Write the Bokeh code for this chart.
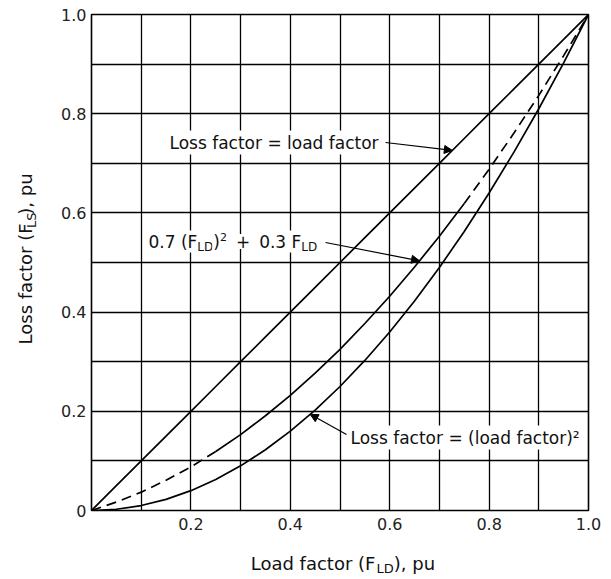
import numpy as np
from bokeh.plotting import figure
from bokeh.layouts import column, row
from bokeh.models import Range1d, FixedTicker, Label, Arrow, NormalHead
from bokeh.embed import file_html
from bokeh.resources import INLINE

# ---------------- data ----------------
load_factor = [0.0, 0.05, 0.1, 0.15, 0.2, 0.25, 0.3, 0.35, 0.4, 0.45, 0.5,
               0.55, 0.6, 0.65, 0.7, 0.75, 0.8, 0.85, 0.9, 0.95, 1.0]
loss_equal = [0.0, 0.05, 0.1, 0.15, 0.2, 0.25, 0.3, 0.35, 0.4, 0.45, 0.5,
              0.55, 0.6, 0.65, 0.7, 0.75, 0.8, 0.85, 0.9, 0.95, 1.0]
loss_square = [0.0, 0.0025, 0.01, 0.0225, 0.04, 0.0625, 0.09, 0.1225, 0.16, 0.2025, 0.25,
               0.3025, 0.36, 0.4225, 0.49, 0.5625, 0.64, 0.7225, 0.81, 0.9025, 1.0]
loss_mix = [0.0, 0.017, 0.037, 0.061, 0.088, 0.119, 0.153, 0.191, 0.232, 0.277, 0.325,
            0.377, 0.432, 0.491, 0.553, 0.619, 0.688, 0.761, 0.837, 0.917, 1.0]

x_ticks = [0.2, 0.4, 0.6, 0.8, 1.0]
x_tick_labels = ["0.2", "0.4", "0.6", "0.8", "1.0"]
y_ticks = [0.0, 0.2, 0.4, 0.6, 0.8, 1.0]
y_tick_labels = ["0", "0.2", "0.4", "0.6", "0.8", "1.0"]
grid_ticks = [0.0, 0.1, 0.2, 0.3, 0.4, 0.5, 0.6, 0.7, 0.8, 0.9, 1.0]

x_title = [("Load factor (F", "main"), ("LD", "sub"), ("), pu", "main")]
y_title = [("Loss factor (F", "main"), ("LS", "sub"), ("), pu", "main")]

# ---------------- layout (page pixels) ----------------
FONT = "DejaVu Sans"
YW = 46                      # width of the strip holding the y title
LEFT, RIGHT, TOP, BOTTOM = 91 - YW, 20, 14, 30
FW, FH = 497, 496
MW = LEFT + FW + RIGHT       # main figure width
MH = TOP + FH + BOTTOM       # main figure height
XH = 38                      # height of the strip holding the x title
FX0 = YW + LEFT              # page x of frame left
FY1 = TOP + FH               # page y of frame bottom


def dx(px):
    return (px - FX0) / FW


def dy(py):
    return (FY1 - py) / FH


def strip(width, height):
    f = figure(width=width, height=height, output_backend="svg", toolbar_location=None,
               x_range=Range1d(0, width), y_range=Range1d(0, height),
               min_border=0, x_axis_type=None, y_axis_type=None)
    f.outline_line_color = None
    f.background_fill_color = "white"
    f.border_fill_color = "white"
    f.xgrid.visible = False
    f.ygrid.visible = False
    return f


p = figure(width=MW, height=MH, output_backend="svg", toolbar_location=None,
           x_range=Range1d(0, 1), y_range=Range1d(0, 1),
           min_border_left=LEFT, min_border_right=RIGHT,
           min_border_top=TOP, min_border_bottom=BOTTOM)
p.background_fill_color = "white"
p.border_fill_color = "white"
p.outline_line_color = "black"
p.outline_line_width = 1.6

for ax, ticks, labels in ((p.xaxis[0], x_ticks, x_tick_labels),
                          (p.yaxis[0], y_ticks, y_tick_labels)):
    ax.ticker = FixedTicker(ticks=ticks)
    ax.major_label_overrides = {t: l for t, l in zip(ticks, labels)}
    ax.axis_line_color = None
    ax.major_tick_line_color = None
    ax.minor_tick_line_color = None
    ax.major_tick_out = 0
    ax.major_tick_in = 0
    ax.minor_tick_out = 0
    ax.minor_tick_in = 0
    ax.major_label_text_font = FONT
    ax.major_label_text_font_size = "16px"
    ax.major_label_text_color = "#222222"
p.xaxis.major_label_standoff = 7
p.yaxis.major_label_standoff = 5

for g in (p.xgrid[0], p.ygrid[0]):
    g.ticker = FixedTicker(ticks=grid_ticks)
    g.grid_line_color = "black"
    g.grid_line_width = 1.3
    g.grid_line_alpha = 1.0

# ---------------- curves ----------------
LW = 1.7
p.line(load_factor, loss_equal, line_color="black", line_width=LW)
p.line(load_factor, loss_square, line_color="black", line_width=LW)
p.line(load_factor[:6], loss_mix[:6], line_color="black", line_width=LW, line_dash="10 6")
p.line(load_factor[5:16], loss_mix[5:16], line_color="black", line_width=LW)
p.line(load_factor[15:], loss_mix[15:], line_color="black", line_width=LW, line_dash="10 6")

# ---------------- text helpers ----------------
WIDTHS = {" ": .318, "(": .390, ")": .390, "+": .838, ",": .318, ".": .318,
          "=": .838, "D": .770, "F": .575, "L": .557, "S": .635, "a": .613,
          "c": .550, "d": .635, "f": .352, "l": .278, "o": .612, "p": .635,
          "r": .411, "s": .521, "t": .392, "u": .634, "²": .401}
MID = 0.346   # distance baseline -> middle of the text box, in em


def text_width(s, size):
    return sum(WIDTHS.get(c, .636) for c in s) * size


def pieces(fig, parts, x0, mid0, base_size, to_x, to_y, vertical=False, bg=None):
    """Place text pieces one after another; every piece is anchored at its centre.
    x0: start of the run along the text, mid0: middle line of the main text."""
    pos = 0.0
    for text, size, shift, gap in parts:
        pos += gap
        w = text_width(text, size)
        across = mid0 + shift + MID * (base_size - size)
        kw = dict(text=text, text_font=FONT, text_font_size=f"{size}px",
                  text_color="#111111", text_baseline="middle", text_align="center")
        if bg:
            kw.update(background_fill_color=bg, padding=1)
        if vertical:
            lbl = Label(x=to_x(across), y=to_y(x0 - pos - w / 2), angle=np.pi / 2, **kw)
        else:
            lbl = Label(x=to_x(x0 + pos + w / 2), y=to_y(across), **kw)
        fig.add_layout(lbl)
        pos += w


def title_parts(spec):
    return [(t, 18, 0, 0) if k == "main" else (t, 13, 4, 1) for t, k in spec]


# y title strip (left of main figure)
yfig = strip(YW, MH)
pieces(yfig, title_parts(y_title), 354, 25, 18, lambda px: px, lambda py: MH - py,
       vertical=True)

# x title strip (below)
xfig = strip(YW + MW, XH)
pieces(xfig, title_parts(x_title), 250, 562.5, 18, lambda px: px, lambda py: MH + XH - py)

# annotations inside the chart
p.add_layout(Label(x=dx(167), y=dy(142), text="Loss factor = load factor",
                   text_font=FONT, text_font_size="17px", text_color="#111111",
                   text_baseline="middle", background_fill_color="white", padding=2))
p.add_layout(Label(x=dx(348), y=dy(437), text="Loss factor = (load factor)²",
                   text_font=FONT, text_font_size="17px", text_color="#111111",
                   text_baseline="middle", background_fill_color="white", padding=2))
pieces(p, [("0.7 (F", 17, 0, 0), ("LD", 12, 4, 0), (")", 17, 0, 0), ("2", 11, -7, 0),
           ("+", 17, 0, 9), ("0.3 F", 17, 0, 9), ("LD", 12, 4, 0)],
       148, 241, 17, dx, dy, bg="white")

# arrows pointing to the curves
head = dict(size=8, fill_color="black", line_color="black")
a1x = 0.726
p.add_layout(Arrow(end=NormalHead(**head), x_start=dx(385), y_start=dy(142),
                   x_end=a1x, y_end=float(np.interp(a1x, load_factor, loss_equal)),
                   line_color="black", line_width=1.2))
a2x = 0.66
p.add_layout(Arrow(end=NormalHead(**head), x_start=dx(325), y_start=dy(242),
                   x_end=a2x, y_end=float(np.interp(a2x, load_factor, loss_mix)),
                   line_color="black", line_width=1.2))
a3x = 0.44
p.add_layout(Arrow(end=NormalHead(**head), x_start=dx(346), y_start=dy(434),
                   x_end=a3x, y_end=float(np.interp(a3x, load_factor, loss_square)),
                   line_color="black", line_width=1.2))

layout = column(row(yfig, p, spacing=0), xfig, spacing=0)
open("out.html", "w").write(file_html(layout, INLINE))
